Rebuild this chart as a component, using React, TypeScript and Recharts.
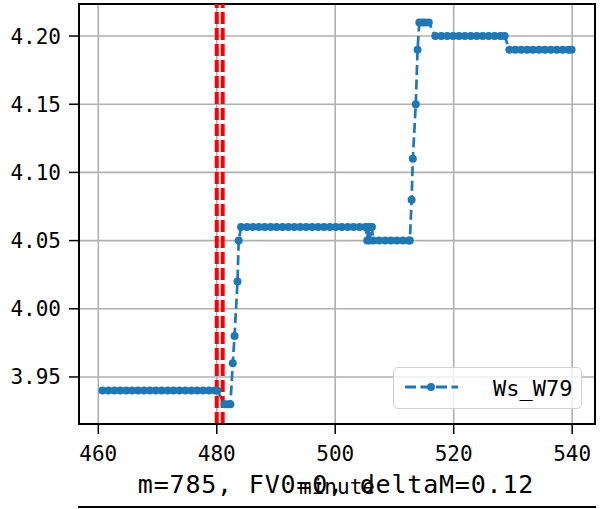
import React from "react";
import {
  LineChart, Line, XAxis, YAxis, CartesianGrid, ReferenceLine, ReferenceArea, Legend,
} from "recharts";

// minute stamps and Ws_W79 values
const minutes = [
  460.7, 461.7, 462.7, 463.7, 464.7, 465.7, 466.7, 467.7, 468.7, 469.7,
  470.7, 471.7, 472.7, 473.7, 474.7, 475.7, 476.7, 477.7, 478.7, 479.7, 480.1,
  481.3, 481.8, 482.3,
  482.7, 483.0, 483.5, 483.7,
  484.1, 485.1, 486.1, 487.1, 488.1, 489.1, 490.1, 491.1, 492.1, 493.1, 494.1,
  495.1, 496.1, 497.1, 498.1, 499.1, 500.1, 501.1, 502.1, 503.1, 504.1, 505.1,
  505.4, 505.6, 505.8, 506.0, 506.2,
  506.4, 507.4, 508.4, 509.4, 510.4, 511.4, 512.4, 512.6,
  512.9, 513.1, 513.6, 513.9,
  514.2, 514.7, 515.2, 515.8,
  516.9, 517.9, 518.9, 519.9, 520.9, 521.9, 522.9, 523.9, 524.9, 525.9, 526.9, 527.9, 528.6,
  529.4, 530.4, 531.4, 532.4, 533.4, 534.4, 535.4, 536.4, 537.4, 538.4, 539.4, 539.9,
];

const wsW79 = [
  3.94, 3.94, 3.94, 3.94, 3.94, 3.94, 3.94, 3.94, 3.94, 3.94,
  3.94, 3.94, 3.94, 3.94, 3.94, 3.94, 3.94, 3.94, 3.94, 3.94, 3.94,
  3.93, 3.93, 3.93,
  3.96, 3.98, 4.02, 4.05,
  4.06, 4.06, 4.06, 4.06, 4.06, 4.06, 4.06, 4.06, 4.06, 4.06, 4.06,
  4.06, 4.06, 4.06, 4.06, 4.06, 4.06, 4.06, 4.06, 4.06, 4.06, 4.06,
  4.05, 4.06, 4.05, 4.06, 4.06,
  4.05, 4.05, 4.05, 4.05, 4.05, 4.05, 4.05, 4.05,
  4.08, 4.11, 4.15, 4.19,
  4.21, 4.21, 4.21, 4.21,
  4.2, 4.2, 4.2, 4.2, 4.2, 4.2, 4.2, 4.2, 4.2, 4.2, 4.2, 4.2, 4.2,
  4.19, 4.19, 4.19, 4.19, 4.19, 4.19, 4.19, 4.19, 4.19, 4.19, 4.19, 4.19,
];

const xTicks = [460, 480, 500, 520, 540];
const yTicks = [3.95, 4.0, 4.05, 4.1, 4.15, 4.2];
const markLines = [480, 481];

const xDomain: [number, number] = [456.74, 543.86];
const yDomain: [number, number] = [3.9155, 4.2235];

const data = minutes.map((m, i) => ({ minute: m, Ws_W79: wsW79[i] }));

const BLUE = "#1f77b4";
const FONT = "DejaVu Sans Mono";

function LegendBox() {
  return (
    <div
      style={{
        width: 189, height: 42, boxSizing: "border-box",
        border: "1.5px solid #d0d0d0", borderRadius: 5,
        background: "rgba(255,255,255,0.8)",
      }}
    >
      <svg width={189} height={42} style={{ position: "absolute", left: 0, top: 0 }}>
        <line x1={12} y1={20} x2={65} y2={20} stroke={BLUE} strokeWidth={3} strokeDasharray="11 4.5" />
        <circle cx={38} cy={20} r={4} fill={BLUE} />
        <text x={100} y={29} fontFamily={FONT} fontSize={22} fill="#000">Ws_W79</text>
      </svg>
    </div>
  );
}

export default function App() {
  return (
    <div style={{ position: "absolute", left: 0, top: 0, width: 609, height: 509, background: "#fff" }}>
      <LineChart width={609} height={509} data={data} margin={{ top: 4, right: 14, left: 0, bottom: 0 }}>
        <CartesianGrid stroke="#b0b0b0" strokeWidth={1.6} />
        <XAxis
          dataKey="minute" type="number" domain={xDomain} ticks={xTicks} allowDataOverflow
          height={85} tickSize={10} tickMargin={12}
          axisLine={{ stroke: "#000", strokeWidth: 2 }}
          tickLine={{ stroke: "#000", strokeWidth: 1.5 }}
          tick={{ fill: "#000", fontSize: 21, fontFamily: FONT }}
          label={{ value: "minute", position: "insideBottom", offset: 15, fill: "#000", fontSize: 21, fontFamily: FONT }}
        />
        <YAxis
          type="number" domain={yDomain} ticks={yTicks} allowDataOverflow
          width={79} tickSize={10} tickMargin={8}
          tickFormatter={(v: number) => v.toFixed(2)}
          axisLine={{ stroke: "#000", strokeWidth: 2 }}
          tickLine={{ stroke: "#000", strokeWidth: 1.5 }}
          tick={{ fill: "#000", fontSize: 21, fontFamily: FONT }}
        />
        <ReferenceArea
          x1={xDomain[0]} x2={xDomain[1]} y1={yDomain[0]} y2={yDomain[1]}
          fill="none" stroke="#000" strokeWidth={2} fillOpacity={0}
        />
        <Line
          dataKey="Ws_W79" type="linear" stroke={BLUE} strokeWidth={2.7} strokeDasharray="10 4.5"
          dot={{ r: 4, fill: BLUE, stroke: "none" }} isAnimationActive={false}
        />
        {markLines.map((m) => (
          <ReferenceLine key={m} x={m} stroke="#ff0000" strokeWidth={4} strokeDasharray="12 4" />
        ))}
        <Legend
          layout="vertical" align="center" verticalAlign="middle"
          wrapperStyle={{ position: "absolute", left: 393, top: 367, width: 190, height: 43 }}
          content={() => <LegendBox />}
        />
      </LineChart>
      <svg width={609} height={509} style={{ position: "absolute", left: 0, top: 0, pointerEvents: "none" }}>
        <text x={336} y={493} textAnchor="middle" fontFamily={FONT} fontSize={25} letterSpacing={0.8} fill="#000">
          m=785, FV0=0, deltaM=0.12
        </text>
        <line x1={78} y1={507} x2={596} y2={507} stroke="#000" strokeWidth={2} />
      </svg>
    </div>
  );
}
